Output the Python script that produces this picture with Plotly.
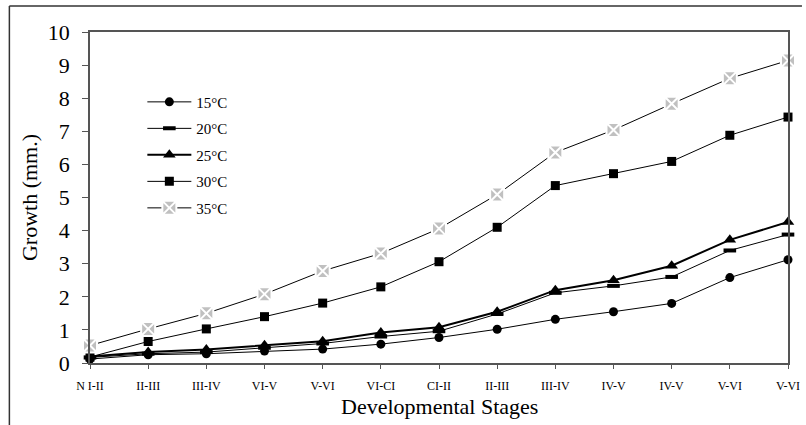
import plotly.graph_objects as go

stages = ["N I-II", "II-III", "III-IV", "VI-V", "V-VI", "VI-CI", "CI-II",
          "II-III", "III-IV", "IV-V", "IV-V", "V-VI", "V-VI"]
x_pos = list(range(len(stages)))

s15 = [0.12, 0.25, 0.28, 0.36, 0.42, 0.57, 0.77, 1.02, 1.32, 1.55, 1.80, 2.58, 3.12]
s20 = [0.17, 0.28, 0.33, 0.46, 0.59, 0.80, 0.96, 1.48, 2.12, 2.33, 2.60, 3.40, 3.88]
s25 = [0.20, 0.33, 0.41, 0.54, 0.66, 0.92, 1.08, 1.55, 2.20, 2.50, 2.94, 3.72, 4.26]
s30 = [0.18, 0.65, 1.03, 1.40, 1.81, 2.30, 3.06, 4.10, 5.36, 5.72, 6.09, 6.88, 7.43]
s35 = [0.53, 1.03, 1.50, 2.08, 2.78, 3.31, 4.06, 5.09, 6.36, 7.04, 7.83, 8.60, 9.14]

y_ticks = list(range(0, 11))

series = [
    ("15°C", s15, dict(symbol="circle", size=9, color="black"), 1),
    ("20°C", s20, dict(symbol="line-ew", size=9, color="black",
                       line=dict(color="black", width=4)), 1),
    ("25°C", s25, dict(symbol="triangle-up", size=11, color="black"), 2),
    ("30°C", s30, dict(symbol="square", size=9, color="black"), 1),
    ("35°C", s35, dict(symbol="square-x", size=14, color="#c0c0c0",
                       line=dict(color="white", width=2)), 1),
]

fig = go.Figure()
for i, (name, ys, mk, lw) in enumerate(series):
    fig.add_trace(go.Scatter(
        x=x_pos, y=ys, name=name, mode="lines+markers",
        line=dict(color="black", width=lw),
        marker=mk, cliponaxis=False, legendgroup=name,
    ))

font_family = "Liberation Serif, Times New Roman, serif"
fig.update_layout(
    width=806, height=425,
    margin=dict(l=90, r=6, t=32, b=62),
    paper_bgcolor="white", plot_bgcolor="white",
    font=dict(family=font_family, color="black"),
    showlegend=True,
    legend=dict(x=0.075, y=0.838, xanchor="left", yanchor="top",
                font=dict(size=15, family=font_family),
                bgcolor="rgba(0,0,0,0)", tracegroupgap=4,
                itemwidth=44),
    xaxis=dict(range=[0, 12], tickmode="array", tickvals=x_pos, ticktext=stages,
               tickfont=dict(size=12, family=font_family),
               ticklabeloverflow="allow", ticklabelstandoff=7,
               showgrid=False, zeroline=False, showline=True, mirror=True,
               linecolor="#555", linewidth=1.5, ticks="outside", ticklen=4,
               tickcolor="#555"),
    yaxis=dict(range=[0, 10], tickmode="array", tickvals=y_ticks,
               tickfont=dict(size=22, family=font_family),
               ticklabelstandoff=8,
               showgrid=False, zeroline=False, showline=True, mirror=True,
               linecolor="#555", linewidth=1.5, ticks="outside", ticklen=6,
               tickcolor="#555",
               title=dict(text="Growth (mm.)", font=dict(size=22), standoff=4)),
    annotations=[
        dict(text="Developmental Stages", xref="paper", yref="paper",
             x=0.5, y=0, xanchor="center", yanchor="middle", yshift=-43,
             showarrow=False, font=dict(size=22, family=font_family)),
    ],
    shapes=[
        dict(type="line", xref="paper", yref="paper", x0=-0.1155, x1=-0.1155,
             y0=1.0785, y1=-0.25, line=dict(color="#333", width=1.5)),
        dict(type="line", xref="paper", yref="paper", x0=-0.1155, x1=1.02,
             y0=1.0785, y1=1.0785, line=dict(color="#333", width=1.5)),
    ],
)

fig.write_html("out.html", config={"displayModeBar": False},
               post_script="document.body.style.margin='0';")
